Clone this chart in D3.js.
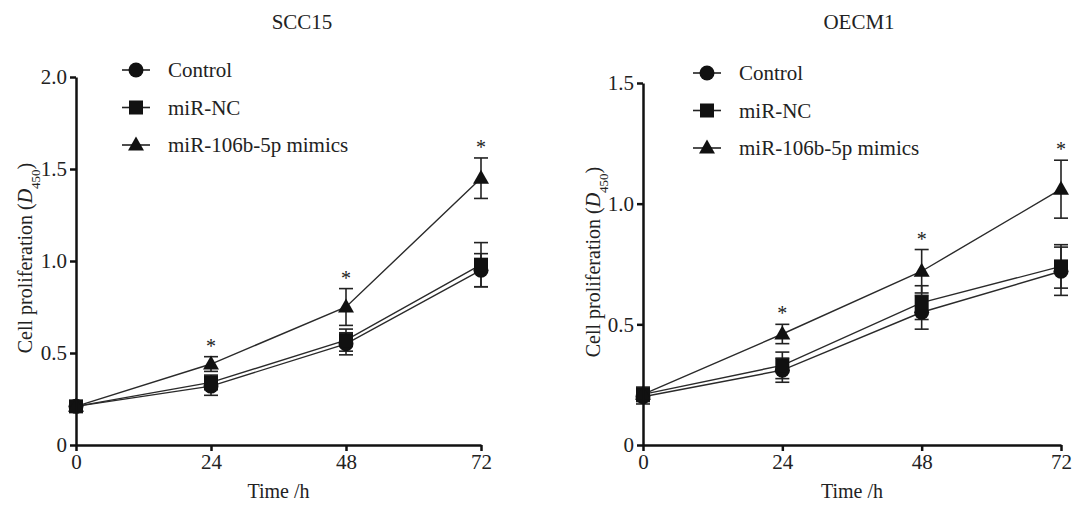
<!DOCTYPE html>
<html>
<head>
<meta charset="utf-8">
<script src="https://cdn.jsdelivr.net/npm/d3@7"></script>
<style>
  body { margin: 0; background: #fff; }
  svg text { font-family: "Liberation Serif", "Times New Roman", serif; fill: #222; }
</style>
</head>
<body>
<div id="chart"></div>
<script>
// time points (h)
const hours = [0, 24, 48, 72];
const groups = ["Control", "miR-NC", "miR-106b-5p mimics"];

// SCC15
const scc15Control = [0.21, 0.32, 0.55, 0.95];
const scc15ControlErr = [0.02, 0.05, 0.06, 0.09];
const scc15NC = [0.21, 0.34, 0.57, 0.98];
const scc15NCErr = [0.02, 0.04, 0.06, 0.12];
const scc15Mimics = [0.21, 0.44, 0.75, 1.45];
const scc15MimicsErr = [0.02, 0.04, 0.10, 0.11];
const scc15Stars = [false, true, true, true];
const scc15Ticks = [0, 0.5, 1.0, 1.5, 2.0];

// OECM1
const oecm1Control = [0.20, 0.31, 0.55, 0.72];
const oecm1ControlErr = [0.03, 0.05, 0.07, 0.10];
const oecm1NC = [0.21, 0.33, 0.59, 0.74];
const oecm1NCErr = [0.03, 0.055, 0.07, 0.09];
const oecm1Mimics = [0.21, 0.46, 0.72, 1.06];
const oecm1MimicsErr = [0.02, 0.04, 0.09, 0.12];
const oecm1Stars = [false, true, true, true];
const oecm1Ticks = [0, 0.5, 1.0, 1.5];

const svg = d3.select("#chart")
    .append("svg")
    .attr("width", 1072)
    .attr("height", 505);

const panels = [
    {title: "SCC15", left: 76, right: 481, top: 77, bottom: 445, yMax: 2.0, ticks: scc15Ticks,
     series: [
        {name: groups[0], shape: "circle", values: scc15Control, err: scc15ControlErr},
        {name: groups[1], shape: "square", values: scc15NC, err: scc15NCErr},
        {name: groups[2], shape: "triangle", values: scc15Mimics, err: scc15MimicsErr}
     ], stars: scc15Stars, legendX: 136, legendY: 70, titleX: 302, labelX: 32, labelY: 258},
    {title: "OECM1", left: 643, right: 1061, top: 83, bottom: 445, yMax: 1.5, ticks: oecm1Ticks,
     series: [
        {name: groups[0], shape: "circle", values: oecm1Control, err: oecm1ControlErr},
        {name: groups[1], shape: "square", values: oecm1NC, err: oecm1NCErr},
        {name: groups[2], shape: "triangle", values: oecm1Mimics, err: oecm1MimicsErr}
     ], stars: oecm1Stars, legendX: 707, legendY: 73, titleX: 859, labelX: 600, labelY: 262}
];

function drawMarker(g, shape, x, y) {
    if (shape === "circle") {
        g.append("circle").attr("cx", x).attr("cy", y).attr("r", 7.5).attr("fill", "#111");
    } else if (shape === "square") {
        g.append("rect").attr("x", x - 7).attr("y", y - 7).attr("width", 14).attr("height", 14).attr("fill", "#111");
    } else {
        g.append("path")
            .attr("d", `M${x},${y - 8.5}L${x + 8},${y + 5.5}L${x - 8},${y + 5.5}Z`)
            .attr("fill", "#111");
    }
}

panels.forEach(p => {
    const x = d3.scaleLinear().domain([0, 72]).range([p.left, p.right]);
    const y = d3.scaleLinear().domain([0, p.yMax]).range([p.bottom, p.top]);
    const g = svg.append("g");

    // lines
    const line = d3.line().x((d, i) => x(hours[i])).y(d => y(d));
    p.series.forEach(s => {
        g.append("path")
            .attr("d", line(s.values))
            .attr("fill", "none")
            .attr("stroke", "#2a2a2a")
            .attr("stroke-width", 1.4);
    });

    // error bars
    p.series.forEach(s => {
        s.values.forEach((v, i) => {
            const cx = x(hours[i]);
            const top = y(v + s.err[i]), bot = y(v - s.err[i]);
            g.append("line").attr("x1", cx).attr("x2", cx).attr("y1", top).attr("y2", bot)
                .attr("stroke", "#222").attr("stroke-width", 1.6);
            [top, bot].forEach(yy => {
                g.append("line").attr("x1", cx - 7).attr("x2", cx + 7).attr("y1", yy).attr("y2", yy)
                    .attr("stroke", "#222").attr("stroke-width", 1.6);
            });
        });
    });

    // markers
    p.series.forEach(s => {
        s.values.forEach((v, i) => drawMarker(g, s.shape, x(hours[i]), y(v)));
    });

    // significance stars above mimics
    const mim = p.series[2];
    p.stars.forEach((st, i) => {
        if (!st) return;
        g.append("text")
            .attr("x", x(hours[i]))
            .attr("y", y(mim.values[i] + mim.err[i]) - 4)
            .attr("text-anchor", "middle")
            .attr("font-size", 20)
            .text("*");
    });

    // axes
    const yAxis = d3.axisLeft(y).tickValues(p.ticks).tickSize(6).tickSizeOuter(0).tickPadding(3)
        .tickFormat(d => d === 0 ? "0" : d3.format(".1f")(d));
    const xAxis = d3.axisBottom(x).tickValues(hours).tickSize(6).tickSizeOuter(0).tickPadding(3);

    const ya = g.append("g").attr("transform", `translate(${p.left},0)`).call(yAxis);
    const xa = g.append("g").attr("transform", `translate(0,${p.bottom})`).call(xAxis);
    [ya, xa].forEach(a => {
        a.attr("font-family", null);
        a.select(".domain").attr("stroke", "#111").attr("stroke-width", 2.5);
        a.selectAll(".tick line").attr("stroke", "#111").attr("stroke-width", 2.5);
        a.selectAll(".tick text").attr("font-size", 21).attr("fill", "#222");
    });

    // title
    g.append("text").attr("x", p.titleX).attr("y", 29).attr("text-anchor", "middle")
        .attr("font-size", 21).text(p.title);

    // x label
    g.append("text").attr("x", (p.left + p.right) / 2).attr("y", 498).attr("text-anchor", "middle")
        .attr("font-size", 20).text("Time /h");

    // y label
    const yl = g.append("text")
        .attr("transform", `translate(${p.labelX},${p.labelY}) rotate(-90)`)
        .attr("text-anchor", "middle")
        .attr("font-size", 20);
    yl.append("tspan").text("Cell proliferation (");
    yl.append("tspan").attr("font-style", "italic").text("D");
    yl.append("tspan").attr("font-size", 13).attr("baseline-shift", "sub").text("450");
    yl.append("tspan").text(")");

    // legend
    p.series.forEach((s, i) => {
        const ly = p.legendY + i * 37.5;
        g.append("line").attr("x1", p.legendX - 14).attr("x2", p.legendX + 14).attr("y1", ly).attr("y2", ly)
            .attr("stroke", "#222").attr("stroke-width", 1.6);
        drawMarker(g, s.shape, p.legendX, ly);
        g.append("text").attr("x", p.legendX + 32).attr("y", ly + 7)
            .attr("font-size", 21).text(s.name);
    });
});
</script>
</body>
</html>
